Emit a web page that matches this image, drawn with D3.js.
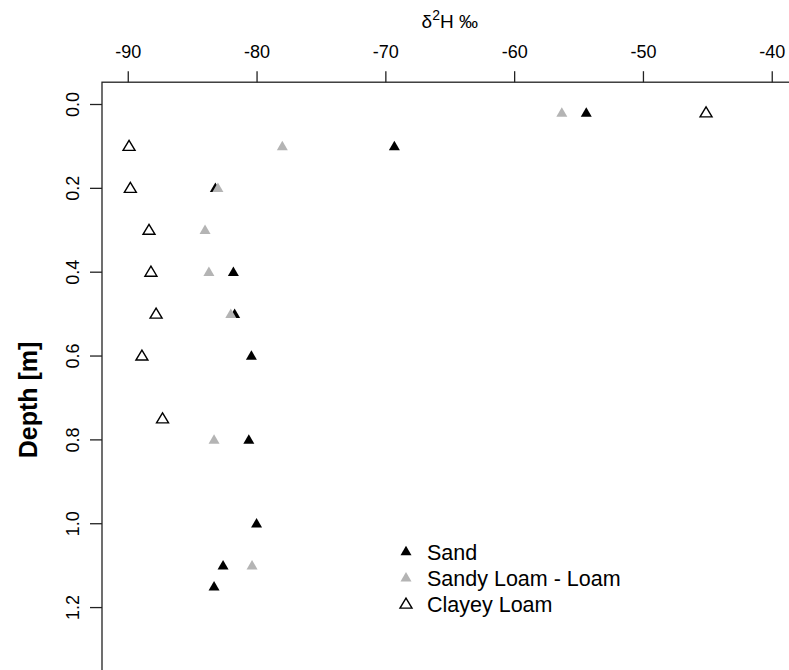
<!DOCTYPE html>
<html><head><meta charset="utf-8">
<script src="https://cdn.jsdelivr.net/npm/d3@7"></script>
<style>body{margin:0;background:#fff}svg{display:block;font-family:"Liberation Sans",Arial,Helvetica,sans-serif}</style>
</head><body>
<script>
const xTicks = [-90, -80, -70, -60, -50, -40];
const yTicks = [0.0, 0.2, 0.4, 0.6, 0.8, 1.0, 1.2];
const seriesNames = ["Sand", "Sandy Loam - Loam", "Clayey Loam"];
const sandDepth = [0.02, 0.1, 0.2, 0.4, 0.5, 0.6, 0.8, 1.0, 1.1, 1.15];
const sandD2H = [-54.4, -69.3, -83.2, -81.8, -81.7, -80.4, -80.6, -80.0, -82.6, -83.3];
const loamDepth = [0.02, 0.1, 0.2, 0.3, 0.4, 0.5, 0.8, 1.1];
const loamD2H = [-56.3, -78.0, -83.0, -84.0, -83.7, -82.0, -83.3, -80.35];
const clayDepth = [0.02, 0.1, 0.2, 0.3, 0.4, 0.5, 0.6, 0.75];
const clayD2H = [-45.1, -89.9, -89.8, -88.35, -88.2, -87.8, -88.9, -87.3];

const W = 789, H = 670;
const svg = d3.select("body").append("svg").attr("width", W).attr("height", H);
const L = 102, R = 797.5, T = 82.2, B = 670.8;
const x = d3.scaleLinear().domain([-92, -38]).range([L, R]);
const y = d3.scaleLinear().domain([-0.052, 1.352]).range([T, B]);

// box
svg.append("rect").attr("x", L).attr("y", T).attr("width", R - L).attr("height", B - T)
  .attr("fill", "none").attr("stroke", "#222").attr("stroke-width", 1.3);

// top axis
const xa = svg.append("g").attr("transform", `translate(0,${T})`)
  .call(d3.axisTop(x).tickValues(xTicks).tickSize(11).tickPadding(13).tickFormat(d3.format("d")));
xa.select(".domain").remove();
xa.selectAll("line").attr("stroke", "#222").attr("stroke-width", 1.3);
xa.selectAll("text").attr("font-size", 18).attr("fill", "#000")
  .attr("font-family", "Liberation Sans, Arial, sans-serif").text(d => d3.format("d")(d).replace("−", "-"));

// left axis
const ya = svg.append("g").attr("transform", `translate(${L},0)`)
  .call(d3.axisLeft(y).tickValues(yTicks).tickSize(12).tickFormat(d3.format(".1f")));
ya.select(".domain").remove();
ya.selectAll("line").attr("stroke", "#222").attr("stroke-width", 1.3);
ya.selectAll("text").remove();
ya.selectAll(".tick").append("text")
  .attr("transform", "translate(-23,0) rotate(-90)")
  .attr("text-anchor", "middle").attr("dy", 0)
  .attr("font-size", 18).attr("fill", "#000")
  .attr("font-family", "Liberation Sans, Arial, sans-serif")
  .text(d => d3.format(".1f")(d));

// titles
const t = svg.append("text").attr("x", (L + R) / 2).attr("y", 28).attr("text-anchor", "middle")
  .attr("font-size", 19).attr("fill", "#000");
t.append("tspan").text("δ");
t.append("tspan").attr("font-size", 14).attr("dy", -8).text("2");
t.append("tspan").attr("dy", 8).text("H ‰");

svg.append("text").attr("transform", `translate(37,400) rotate(-90)`)
  .attr("text-anchor", "middle").attr("font-size", 25).attr("font-weight", "bold")
  .attr("fill", "#000").text("Depth [m]");

// triangles
function tri(cx, cy, w, h) {
  const p = d3.path();
  p.moveTo(cx, cy - h * 0.55); p.lineTo(cx + w / 2, cy + h * 0.45); p.lineTo(cx - w / 2, cy + h * 0.45); p.closePath();
  return p.toString();
}
const sand = sandDepth.map((d, i) => ({d, v: sandD2H[i]}));
const loam = loamDepth.map((d, i) => ({d, v: loamD2H[i]}));
const clay = clayDepth.map((d, i) => ({d, v: clayD2H[i]}));

svg.append("g").selectAll("path").data(sand).join("path")
  .attr("d", p => tri(x(p.v), y(p.d), 11, 9.5)).attr("fill", "#000");
svg.append("g").selectAll("path").data(loam).join("path")
  .attr("d", p => tri(x(p.v), y(p.d), 11, 9.5)).attr("fill", "#b4b4b4");
svg.append("g").selectAll("path").data(clay).join("path")
  .attr("d", p => tri(x(p.v), y(p.d), 12, 10)).attr("fill", "none").attr("stroke", "#000").attr("stroke-width", 1.4);

// legend
const leg = [
  {name: seriesNames[0], fill: "#000", stroke: "none"},
  {name: seriesNames[1], fill: "#b4b4b4", stroke: "none"},
  {name: seriesNames[2], fill: "none", stroke: "#000"}
];
const lg = svg.append("g");
leg.forEach((e, i) => {
  const cy = 551 + i * 26.3;
  lg.append("path").attr("d", e.stroke === "none" ? tri(406, cy, 11, 9.5) : tri(406, cy, 12, 10))
    .attr("fill", e.fill).attr("stroke", e.stroke).attr("stroke-width", 1.4);
  lg.append("text").attr("x", 427).attr("y", cy + 8.5).attr("font-size", 21.5).attr("fill", "#000").text(e.name);
});
</script>
</body></html>
